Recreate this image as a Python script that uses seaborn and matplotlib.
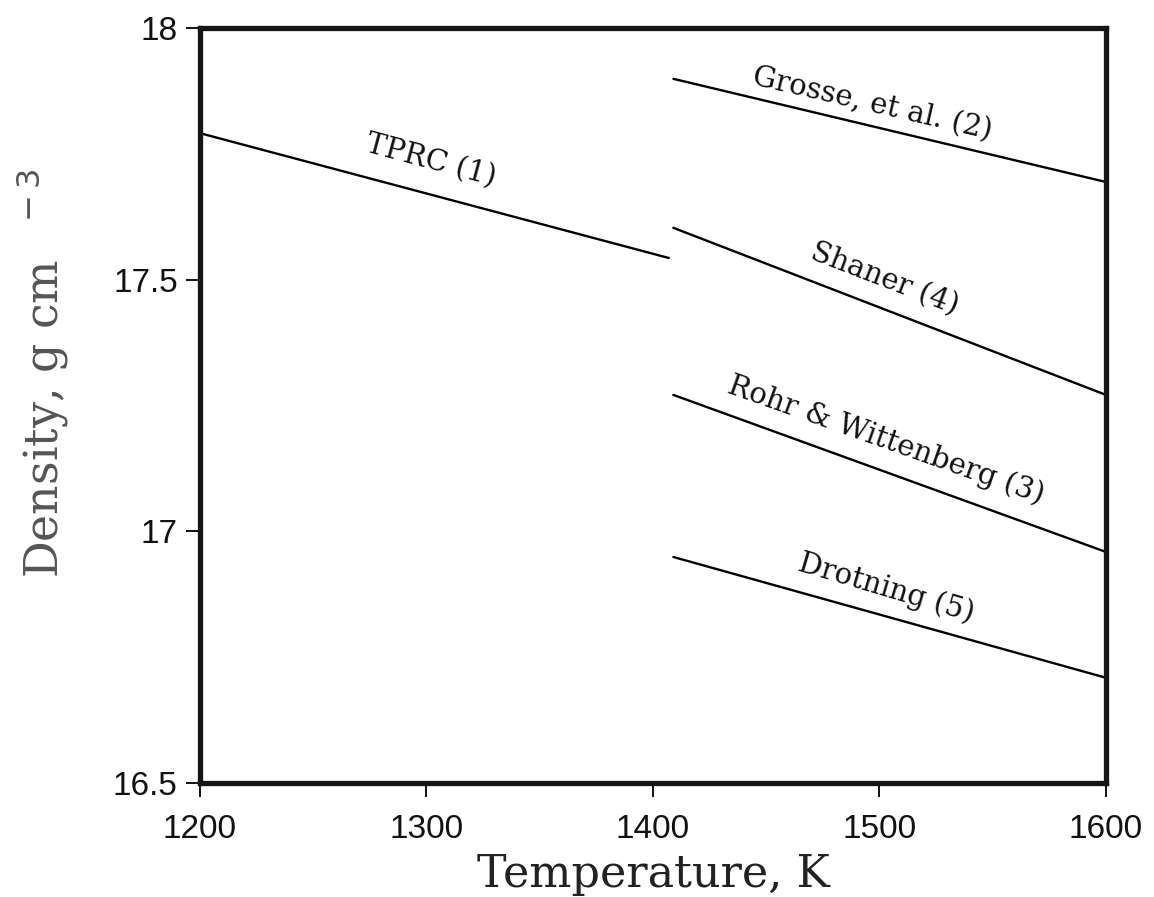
import matplotlib
matplotlib.use("Agg")
import matplotlib.pyplot as plt
import seaborn as sns
import pandas as pd

# Data
series_names = ["TPRC (1)", "Grosse, et al. (2)", "Shaner (4)", "Rohr & Wittenberg (3)", "Drotning (5)"]
temp_start = [1200, 1409, 1409, 1409, 1409]
temp_end = [1407, 1600, 1600, 1600, 1600]
dens_start = [17.791, 17.899, 17.603, 17.271, 16.949]
dens_end = [17.543, 17.694, 17.271, 16.959, 16.709]

# label placements (data coords) and rotation
label_x = [1302, 1497, 1502, 1503, 1503]
label_y = [17.735, 17.848, 17.500, 17.182, 16.888]
label_rot = [-15.0, -13.0, -21.0, -19.5, -16.5]

x_ticks = [1200, 1300, 1400, 1500, 1600]
y_ticks = [16.5, 17.0, 17.5, 18.0]
y_tick_labels = ["16.5", "17", "17.5", "18"]

rows = []
for n, t0, t1, d0, d1 in zip(series_names, temp_start, temp_end, dens_start, dens_end):
    rows.append({"series": n, "T": t0, "rho": d0})
    rows.append({"series": n, "T": t1, "rho": d1})
df = pd.DataFrame(rows)

sns.set_style("ticks")
fig = plt.figure(figsize=(11.54, 8.97), dpi=100)
ax = fig.add_axes([0.1733, 0.1271, 0.7851, 0.8417])

sns.lineplot(data=df, x="T", y="rho", hue="series", units="series", estimator=None,
             palette=["black"] * len(series_names), linewidth=1.7, legend=False, ax=ax,
             sort=False)

for name, lx, ly, rot in zip(series_names, label_x, label_y, label_rot):
    ax.text(lx, ly, name, rotation=rot, ha="center", va="center",
            family="DejaVu Serif", fontsize=21, color="#111111",
            rotation_mode="anchor")

ax.set_xlim(1200, 1600)
ax.set_ylim(16.5, 18.0)
ax.set_xticks(x_ticks)
ax.set_xticklabels([str(t) for t in x_ticks])
ax.set_yticks(y_ticks)
ax.set_yticklabels(y_tick_labels)
ax.tick_params(axis="both", direction="out", length=10, width=1.4, labelsize=24,
               colors="#111111")
ax.tick_params(axis="x", pad=12)
ax.tick_params(axis="y", pad=6)
for lab in ax.get_xticklabels() + ax.get_yticklabels():
    lab.set_family("Liberation Sans")

for sp in ax.spines.values():
    sp.set_linewidth(3.8)
    sp.set_color("#151515")

ax.set_xlabel("Temperature, K", family="DejaVu Serif", fontsize=32, color="#222222", labelpad=6)
ax.set_ylabel(r"Density, g cm$^{\quad -3}$", family="DejaVu Serif", fontsize=33, color="#555555")
ax.yaxis.set_label_coords(-0.143, 0.543)

fig.savefig("out.png", dpi=100)
